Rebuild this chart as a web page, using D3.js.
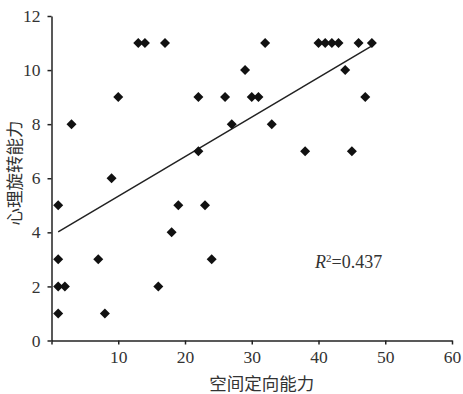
<!DOCTYPE html>
<html>
<head>
<meta charset="utf-8">
<script src="https://cdnjs.cloudflare.com/ajax/libs/d3/7.8.5/d3.min.js"></script>
<style>
  body { margin: 0; background: #fff; }
  .axis text { font-family: "Liberation Serif", "Noto Sans CJK SC", serif; font-size: 17.5px; fill: #333; }
  .axis path, .axis line { stroke: #222; stroke-width: 1.5px; }
</style>
</head>
<body>
<div id="chart"></div>
<script>
// spatial orientation score (x) vs mental rotation score (y)
var spatialScore = [1, 1, 1, 1, 2, 3, 7, 8, 9, 10, 13, 14, 17, 16, 18, 19, 22, 22, 23, 24,
                    26, 27, 29, 30, 31, 32, 33, 38, 40, 41, 42, 43, 44, 45, 46, 47, 48];
var rotationScore = [5, 3, 2, 1, 2, 8, 3, 1, 6, 9, 11, 11, 11, 2, 4, 5, 9, 7, 5, 3,
                     9, 8, 10, 9, 9, 11, 8, 7, 11, 11, 11, 11, 10, 7, 11, 9, 11];
var xTicks = [0, 10, 20, 30, 40, 50, 60];
var yTicks = [0, 2, 4, 6, 8, 10, 12];
var xTitle = "空间定向能力";
var yTitle = "心理旋转能力";
var r2Label = "0.437";

var w = 463, h = 394;
var mLeft = 51.5, mRight = 452, mTop = 16, mBottom = 340.5;

var points = spatialScore.map(function(d, i) { return { x: d, y: rotationScore[i] }; });

var xScale = d3.scaleLinear().domain([0, 60]).range([mLeft, mRight]);
var yScale = d3.scaleLinear().domain([0, 12]).range([mBottom, mTop]);

var svg = d3.select("#chart")
    .append("svg")
    .attr("width", w)
    .attr("height", h);

// axes
svg.append("g")
    .attr("class", "axis")
    .attr("transform", "translate(0," + mBottom + ")")
    .call(d3.axisBottom(xScale).tickValues(xTicks).tickSize(4).tickSizeOuter(0).tickPadding(6)
        .tickFormat(function(d) { return d === 0 ? "" : d; }));

svg.append("g")
    .attr("class", "axis")
    .attr("transform", "translate(" + mLeft + ",0)")
    .call(d3.axisLeft(yScale).tickValues(yTicks).tickSize(4).tickSizeOuter(0).tickPadding(7));

// least squares trend line
var mx = d3.mean(spatialScore), my = d3.mean(rotationScore);
var sxy = d3.sum(points, function(d) { return (d.x - mx) * (d.y - my); });
var sxx = d3.sum(points, function(d) { return (d.x - mx) * (d.x - mx); });
var slope = sxy / sxx, intercept = my - slope * mx;
var xExt = d3.extent(spatialScore);

svg.append("line")
    .attr("x1", xScale(xExt[0]))
    .attr("y1", yScale(intercept + slope * xExt[0]))
    .attr("x2", xScale(xExt[1]))
    .attr("y2", yScale(intercept + slope * xExt[1]))
    .attr("stroke", "#222")
    .attr("stroke-width", 1.5);

// diamond markers
var diamond = d3.symbol().type(d3.symbolSquare).size(50);
svg.selectAll("path.pt")
    .data(points)
    .enter()
    .append("path")
    .attr("class", "pt")
    .attr("d", diamond)
    .attr("transform", function(d) { return "translate(" + xScale(d.x) + "," + yScale(d.y) + ") rotate(45)"; })
    .attr("fill", "#111");

// axis titles
svg.append("text")
    .attr("text-anchor", "middle")
    .attr("x", (mLeft + mRight) / 2 + 10)
    .attr("y", 390)
    .style("font-family", "'Noto Sans CJK SC', sans-serif")
    .style("font-size", "17.5px")
    .style("fill", "#333")
    .text(xTitle);

svg.append("text")
    .attr("text-anchor", "middle")
    .attr("transform", "translate(21,173) rotate(-90)")
    .style("font-family", "'Noto Sans CJK SC', sans-serif")
    .style("font-size", "17.5px")
    .style("fill", "#333")
    .text(yTitle);

// R squared label
var r2 = svg.append("text")
    .attr("x", 315)
    .attr("y", 268)
    .style("font-family", "'Liberation Serif', serif")
    .style("font-size", "18px")
    .style("fill", "#333");
r2.append("tspan").style("font-style", "italic").text("R");
r2.append("tspan").attr("dy", -6).style("font-size", "11px").text("2");
r2.append("tspan").attr("dy", 6).text("=" + r2Label);
</script>
</body>
</html>
